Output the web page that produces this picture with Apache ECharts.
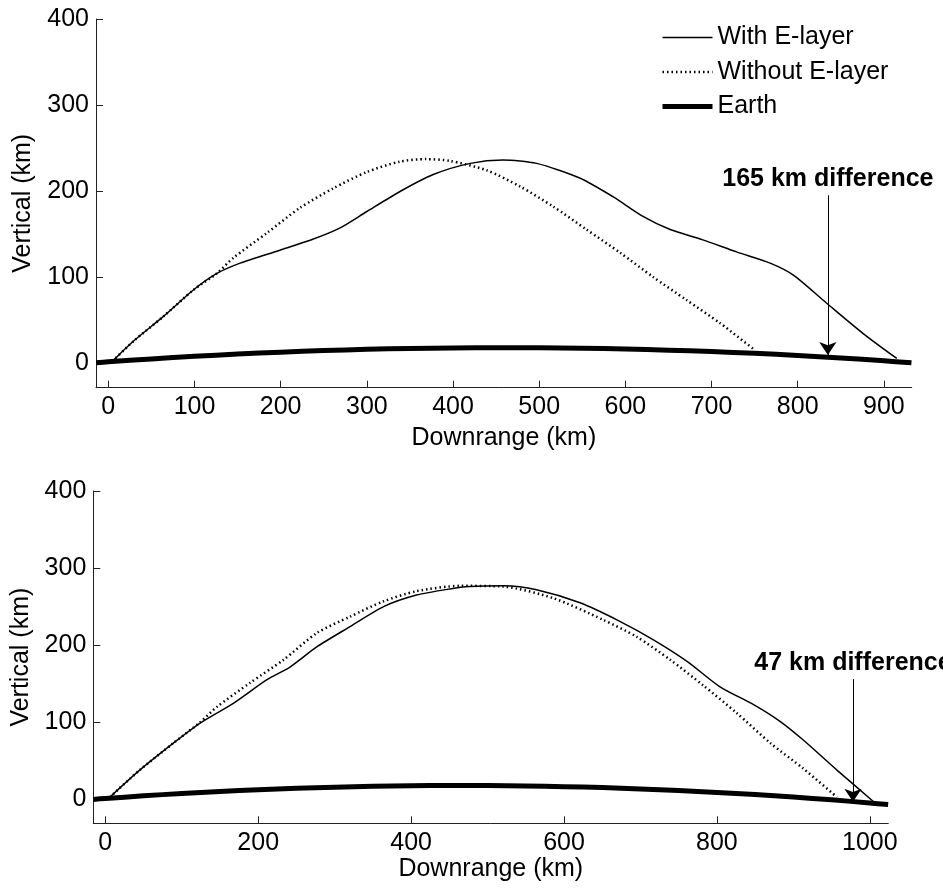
<!DOCTYPE html>
<html><head><meta charset="utf-8">
<script src="https://cdn.jsdelivr.net/npm/echarts@6/dist/echarts.min.js"></script>
<style>html,body{margin:0;padding:0;background:#fff}#c{width:943px;height:888px}</style>
</head><body><div id="c"></div>
<script>
// ---- data (km) ----
const topWithE = [[5,2],[29,25],[64,54],[99,85],[126,104],[153,116],[199,131],[238,144],[269,157],[300,176],[338,199],[377,219],[420,232],[458,236],[497,232],[547,215],[586,193],[621,170],[652,155],[690,143],[729,129],[768,116],[795,102],[834,69],[876,34],[915,5]];
const topWithoutE = [[5,2],[29,25],[64,54],[99,85],[126,104],[145,122],[184,151],[222,180],[261,203],[300,222],[338,234],[369,237],[396,235],[439,224],[478,205],[516,182],[555,155],[594,128],[632,100],[671,73],[710,46],[750,15]];
const topEarth = [[-14,0],[0,1.1],[50,4.5],[100,7.5],[150,10.1],[200,12.3],[250,14.2],[300,15.6],[350,16.7],[400,17.3],[450,17.6],[500,17.5],[550,17.0],[600,16.0],[650,14.7],[700,13.0],[750,11.0],[800,8.5],[850,5.6],[900,2.3],[932,0]];

const botWithE = [[6,3],[45,38],[89,73],[124,99],[168,125],[211,155],[242,172],[277,198],[320,224],[364,250],[407,265],[451,273],[477,276],[521,277],[564,272],[621,255],[673,231],[717,207],[761,179],[804,146],[848,123],[883,101],[913,77],[957,38],[1005,-3]];
const botWithoutE = [[6,3],[45,38],[89,73],[124,100],[146,120],[189,151],[233,181],[277,216],[320,237],[364,257],[407,270],[464,277],[521,276],[586,261],[651,233],[695,211],[739,181],[782,148],[826,112],[870,73],[913,40],[957,3]];
const botEarth = [[-16,0],[0,1.2],[50,4.6],[100,7.7],[150,10.3],[200,12.6],[250,14.4],[300,15.9],[350,17.0],[400,17.7],[450,18.0],[500,17.9],[550,17.4],[600,16.5],[650,15.3],[700,13.6],[750,11.5],[800,9.1],[850,6.2],[900,3.0],[950,-0.6],[1000,-4.6],[1024,-6.7]];

const topXTicks = [0,100,200,300,400,500,600,700,800,900];
const botXTicks = [0,200,400,600,800,1000];
const yTicks = [0,100,200,300,400];

const topArrow = [835, 195, 9];     // x, start y, tip y
const botArrow = [978, 156, -3];
const topArrowText = '165 km difference';
const botArrowText = '47 km difference';

const seriesNames = ['With E-layer','Without E-layer','Earth'];

// ---- chart ----
const FF = '"Liberation Sans", Arial, Helvetica, sans-serif';
const AX = '#222';
const DOT = [1.5, 3];
const plain = v => String(v);

function xAxis(gi, min, max, ticks, gap) {
  return {type:'value', gridIndex:gi, min:min, max:max,
    name:'Downrange (km)', nameLocation:'middle', nameGap:gap,
    nameTextStyle:{fontSize:25, color:'#000', fontFamily:FF},
    axisLine:{show:true, onZero:false, lineStyle:{color:AX, width:1}},
    axisTick:{show:true, inside:true, length:7, customValues:ticks, lineStyle:{color:AX, width:1}},
    axisLabel:{show:true, customValues:ticks, formatter:plain, fontSize:25, color:'#000', margin:7, fontFamily:FF},
    splitLine:{show:false}};
}
function yAxis(gi, min, max, gap) {
  return {type:'value', gridIndex:gi, min:min, max:max,
    name:'Vertical (km)', nameLocation:'middle', nameGap:gap, nameRotate:90,
    nameTextStyle:{fontSize:25, color:'#000', fontFamily:FF},
    axisLine:{show:true, onZero:false, lineStyle:{color:AX, width:1}},
    axisTick:{show:true, inside:true, length:7, customValues:yTicks, lineStyle:{color:AX, width:1}},
    axisLabel:{show:true, customValues:yTicks, formatter:plain, fontSize:25, color:'#000', margin:7, fontFamily:FF},
    splitLine:{show:false}};
}
function arrowMark(a, text) {
  return {silent:true, animation:false, symbol:['none','arrow'], symbolSize:13,
    itemStyle:{color:'#000'},
    lineStyle:{color:'#000', width:1, type:'solid'},
    label:{show:true, position:'start', formatter:text, fontSize:25, fontWeight:'bold', color:'#000', fontFamily:FF, distance:4},
    data:[[{coord:[a[0], a[1]]},{coord:[a[0], a[2]]}]]};
}
function lines(gi, withE, withoutE, earth, arrow, text) {
  return [
    {type:'line', name:seriesNames[0], xAxisIndex:gi, yAxisIndex:gi, data:withE, symbol:'none', smooth:0.25,
     lineStyle:{color:'#000', width:1.5}, itemStyle:{color:'#000'}, silent:true, animation:false,
     markLine:arrowMark(arrow, text)},
    {type:'line', name:seriesNames[1], xAxisIndex:gi, yAxisIndex:gi, data:withoutE, symbol:'none', smooth:0.25,
     lineStyle:{color:'#000', width:2.5, type:DOT, cap:'butt'}, itemStyle:{color:'#000'}, silent:true, animation:false},
    {type:'line', name:seriesNames[2], xAxisIndex:gi, yAxisIndex:gi, data:earth, symbol:'none', smooth:0.3,
     lineStyle:{color:'#000', width:5}, itemStyle:{color:'#000'}, silent:true, animation:false}
  ];
}

const chart = echarts.init(document.getElementById('c'), null, {renderer:'canvas'});
chart.setOption({
  backgroundColor:'#fff',
  animation:false,
  textStyle:{fontFamily:FF},
  grid:[
    {left:96, top:19, width:815.7, height:368.7},
    {left:93.3, top:491, width:795, height:332.3}
  ],
  xAxis:[xAxis(0,-14.3,932.3,topXTicks,38), xAxis(1,-15.7,1024.2,botXTicks,30)],
  yAxis:[yAxis(0,-29,400,60), yAxis(1,-31,400,57)],
  legend:{show:true, orient:'vertical', left:655, top:20, itemWidth:50, itemHeight:14, itemGap:9.5,
    selectedMode:false, itemStyle:{opacity:0},
    textStyle:{fontSize:25, lineHeight:25, color:'#000', fontFamily:FF},
    data:[
      {name:seriesNames[0], lineStyle:{width:1.5, color:'#000'}},
      {name:seriesNames[1], lineStyle:{width:2.5, color:'#000', type:DOT, cap:'butt'}},
      {name:seriesNames[2], lineStyle:{width:5, color:'#000'}}
    ]},
  series:[].concat(
    lines(0, topWithE, topWithoutE, topEarth, topArrow, topArrowText),
    lines(1, botWithE, botWithoutE, botEarth, botArrow, botArrowText)
  )
});
</script></body></html>
